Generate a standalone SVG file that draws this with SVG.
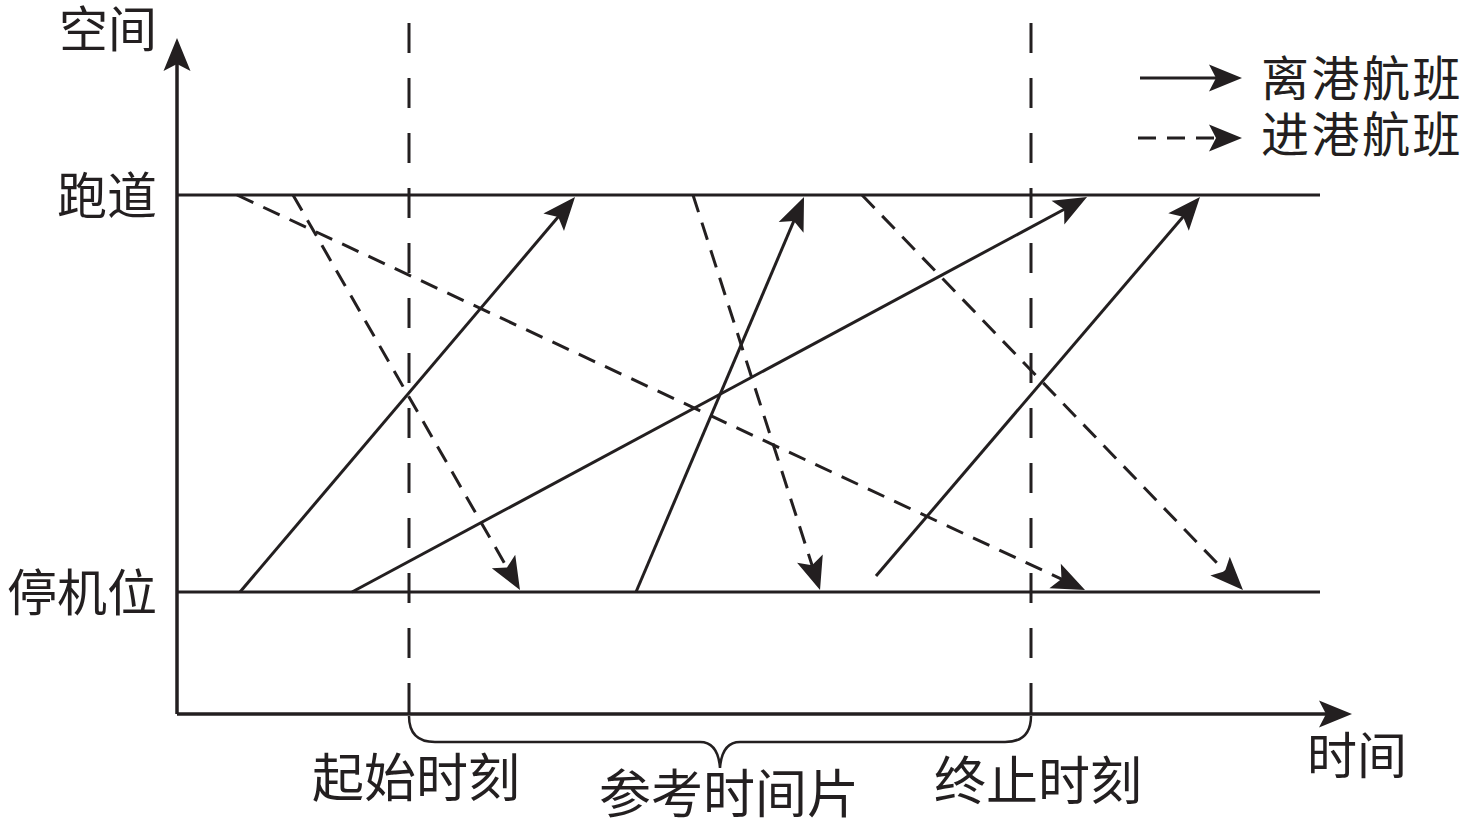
<svg xmlns="http://www.w3.org/2000/svg" width="1476" height="827" viewBox="0 0 1476 827">
  <style>
    .ln { stroke: #231f20; stroke-width: 3; fill: none; }
    .dash { stroke-dasharray: 18 11; }
    .vdash { stroke: #231f20; stroke-width: 3; fill: none; stroke-dasharray: 30 25; }
    .arr { marker-end: url(#ah); }
    .lbl { font-family: "Liberation Sans", "Noto Sans CJK SC", "Noto Sans CJK TC", sans-serif; font-size: 50px; fill: #231f20; }
    .big { font-size: 52px; }
    .leg { font-size: 48px; letter-spacing: 2.5px; }
  </style>
  <defs>
    <marker id="ah" markerUnits="userSpaceOnUse" orient="auto" refX="0" refY="0" markerWidth="40" markerHeight="40" overflow="visible">
      <path d="M20,0 L-13,-13.5 L-6,0 L-13,13.5 Z" fill="#231f20"/>
    </marker>
  </defs>
  <rect width="1476" height="827" fill="#ffffff"/>

  <g id="axes">
    <line class="ln arr" x1="177" y1="714" x2="177" y2="58" style="stroke-width:3.5"/>
    <line class="ln arr" x1="177" y1="714" x2="1332" y2="714" style="stroke-width:3.5"/>
    <text class="lbl" x="59" y="47" style="font-size:49px">空间</text>
    <text class="lbl" x="1307" y="774">时间</text>
  </g>

  <g id="runway">
    <line class="ln" x1="177" y1="195" x2="1320" y2="195"/>
    <text class="lbl" x="57" y="214">跑道</text>
  </g>

  <g id="stand">
    <line class="ln" x1="177" y1="592" x2="1320" y2="592"/>
    <text class="lbl" x="7" y="611">停机位</text>
  </g>

  <g id="start-time">
    <line class="vdash" x1="409" y1="23" x2="409" y2="714"/>
    <text class="lbl big" x="312" y="797">起始时刻</text>
  </g>

  <g id="end-time">
    <line class="vdash" x1="1031" y1="23" x2="1031" y2="714"/>
    <text class="lbl big" x="934" y="800">终止时刻</text>
  </g>

  <g id="time-slice">
    <path class="ln" style="stroke-width:2.5" d="M409,716 Q409,742 435,742 L700,742 Q718,742 720,768 Q722,742 740,742 L1005,742 Q1031,742 1031,716"/>
    <text class="lbl big" x="599" y="813">参考时间片</text>
  </g>

  <g id="legend">
    <line class="ln arr" x1="1140" y1="78" x2="1222" y2="78"/>
    <text class="lbl leg" x="1261" y="96">离港航班</text>
    <line class="ln dash arr" x1="1138" y1="138" x2="1222" y2="138"/>
    <text class="lbl leg" x="1261" y="152">进港航班</text>
  </g>

  <g id="connectors">
    <!-- departures (solid) -->
    <line class="ln arr" x1="240" y1="592" x2="562.1" y2="212.3"/>
    <line class="ln arr" x1="352" y1="592" x2="1069.4" y2="206.5"/>
    <line class="ln arr" x1="636" y1="592" x2="796.2" y2="215.4"/>
    <line class="ln arr" x1="876" y1="576" x2="1187" y2="212.2"/>
    <!-- arrivals (dashed) -->
    <line class="ln dash arr" x1="237" y1="195" x2="1066.9" y2="581.6"/>
    <line class="ln dash arr" x1="293" y1="195" x2="510" y2="572.7"/>
    <line class="ln dash arr" x1="693" y1="195" x2="813.9" y2="571"/>
    <line class="ln dash arr" x1="862" y1="195" x2="1229.1" y2="575.6"/>
  </g>
</svg>
